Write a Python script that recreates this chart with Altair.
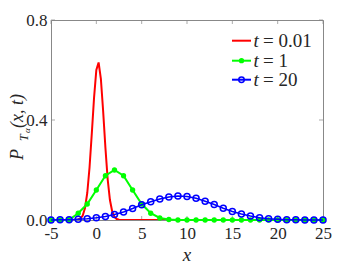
import altair as alt
import pandas as pd

# ---- data ----
red_x = [-5, -2.5, -2.0, -1.75, -1.5, -1.25, -1.0, -0.75, -0.5, -0.25, 0.0, 0.25,
         0.5, 0.75, 1.0, 1.25, 1.5, 1.75, 2.0, 2.25, 2.5, 3.0, 25]
red_y = [0, 0.0, 0.002, 0.006, 0.018, 0.048, 0.108, 0.21, 0.346, 0.49, 0.60, 0.63,
         0.565, 0.436, 0.29, 0.163, 0.08, 0.034, 0.012, 0.004, 0.001, 0.0, 0]

grid_x = list(range(-5, 26))
green_y = [0, 0, 0.001, 0.027, 0.064, 0.12, 0.177, 0.200, 0.177, 0.12, 0.064,
           0.027, 0.008, 0.002, 0, 0, 0, 0, 0, 0, 0, 0, 0, 0, 0, 0, 0, 0, 0, 0, 0]
blue_y = [0, 0.001, 0.001, 0.003, 0.005, 0.009, 0.014, 0.022, 0.032, 0.046, 0.061,
          0.073, 0.084, 0.092, 0.096, 0.094, 0.087, 0.075, 0.062, 0.047, 0.034,
          0.024, 0.016, 0.009, 0.005, 0.003, 0.001, 0.001, 0, 0, 0]

x_ticks = [-5, 0, 5, 10, 15, 20, 25]
y_ticks = [0.0, 0.4, 0.8]
legend_labels = ["= 0.01", "= 1", "= 20"]

RED, GREEN, BLUE = "#ff0000", "#00ff00", "#0000ff"
SERIF = "Liberation Serif"
GRAY = "#262626"

red_df = pd.DataFrame({"x": red_x, "y": red_y})
green_df = pd.DataFrame({"x": grid_x, "y": green_y})
blue_df = pd.DataFrame({"x": grid_x, "y": blue_y})
xt_df = pd.DataFrame({"x": x_ticks})
yt_df = pd.DataFrame({"y": y_ticks})
one = pd.DataFrame({"a": [0]})

xs = alt.Scale(domain=[-5, 25], nice=False, zero=False)
ys = alt.Scale(domain=[0, 0.8], nice=False)

xax = alt.Axis(values=x_ticks, labelExpr="'' + datum.value", labelFont=SERIF,
               labelFontSize=17, labelColor=GRAY, ticks=False, domain=False,
               grid=False, title=None, labelPadding=5, labelFlush=False,
               labelOverlap=False)
yax = alt.Axis(values=y_ticks, format=".1f", labelFont=SERIF, labelFontSize=17,
               labelColor=GRAY, ticks=False, domain=False, grid=False,
               title=None, labelPadding=4, labelFlush=False, labelOverlap=False)

X = alt.X("x:Q", scale=xs, axis=xax)
Y = alt.Y("y:Q", scale=ys, axis=yax)

red = alt.Chart(red_df).mark_line(color=RED, strokeWidth=2, clip=True).encode(x=X, y=Y)
green_line = alt.Chart(green_df).mark_line(color=GREEN, strokeWidth=2).encode(x=X, y=Y)
green_pts = alt.Chart(green_df).mark_point(color=GREEN, filled=True, opacity=1,
                                           size=28, shape="circle").encode(x=X, y=Y)
blue_line = alt.Chart(blue_df).mark_line(color=BLUE, strokeWidth=1.5).encode(x=X, y=Y)
blue_pts = alt.Chart(blue_df).mark_point(color=BLUE, filled=False, opacity=1,
                                         size=36, strokeWidth=1.5,
                                         shape="circle").encode(x=X, y=Y)

# inward ticks
TK = "#888888"
tb = alt.Chart(xt_df).mark_tick(color=TK, size=4, thickness=1).encode(
    x=alt.X("x:Q", scale=xs, axis=xax), y=alt.value(198))
tt = alt.Chart(xt_df).mark_tick(color=TK, size=4, thickness=1).encode(
    x=alt.X("x:Q", scale=xs, axis=xax), y=alt.value(2))
tl = alt.Chart(yt_df).mark_tick(color=TK, size=4, thickness=1).encode(
    y=alt.Y("y:Q", scale=ys, axis=yax), x=alt.value(2))
tr = alt.Chart(yt_df).mark_tick(color=TK, size=4, thickness=1).encode(
    y=alt.Y("y:Q", scale=ys, axis=yax), x=alt.value(270))


def txt(s, x, y, size, italic=False, angle=0, align="left", baseline="alphabetic"):
    kw = dict(text=s, font=SERIF, fontSize=size, color=GRAY, align=align,
              baseline=baseline)
    if italic:
        kw["fontStyle"] = "italic"
    if angle:
        kw["angle"] = angle
    return alt.Chart(one).mark_text(**kw).encode(x=alt.value(x), y=alt.value(y))


# axis titles
x_title = txt("x", 136, 241, 19, italic=True, align="center")
y_P = txt("P", -28, 140, 18, italic=True, angle=270)
y_T = txt("T", -23, 121, 12, italic=True, angle=270)
y_a = txt("α", -21, 113, 9, italic=True, angle=270)
y_rest = txt("(x, t)", -28, 108, 18, italic=True, angle=270)

# legend
rows = [20.7, 40.7, 59.7]
leg = []
for col, yy, lab in zip([RED, GREEN, BLUE], rows, legend_labels):
    leg.append(alt.Chart(one).mark_rule(color=col, strokeWidth=2).encode(
        x=alt.value(181), x2=alt.value(200), y=alt.value(yy)))
    leg.append(txt("t", 202.5, yy + 6, 19, italic=True))
    leg.append(txt(lab, 212, yy + 6, 19))
leg.append(alt.Chart(one).mark_point(color=GREEN, filled=True, opacity=1, size=28,
                                     shape="circle").encode(x=alt.value(190.5),
                                                            y=alt.value(rows[1])))
leg.append(alt.Chart(one).mark_point(color=BLUE, filled=False, opacity=1, size=30,
                                     strokeWidth=1.5, shape="circle").encode(
    x=alt.value(190.5), y=alt.value(rows[2])))

chart = alt.layer(
    tb, tt, tl, tr, red, green_line, green_pts, blue_line, blue_pts,
    x_title, y_P, y_T, y_a, y_rest, *leg
).properties(
    width=272, height=200,
    autosize=alt.AutoSizeParams(type="none"),
    padding={"left": 43, "top": 12, "right": 26, "bottom": 46},
    background="white",
).configure_view(stroke="#888888", strokeWidth=1)

chart.save("out.html", embed_options={"renderer": "svg", "actions": False})
